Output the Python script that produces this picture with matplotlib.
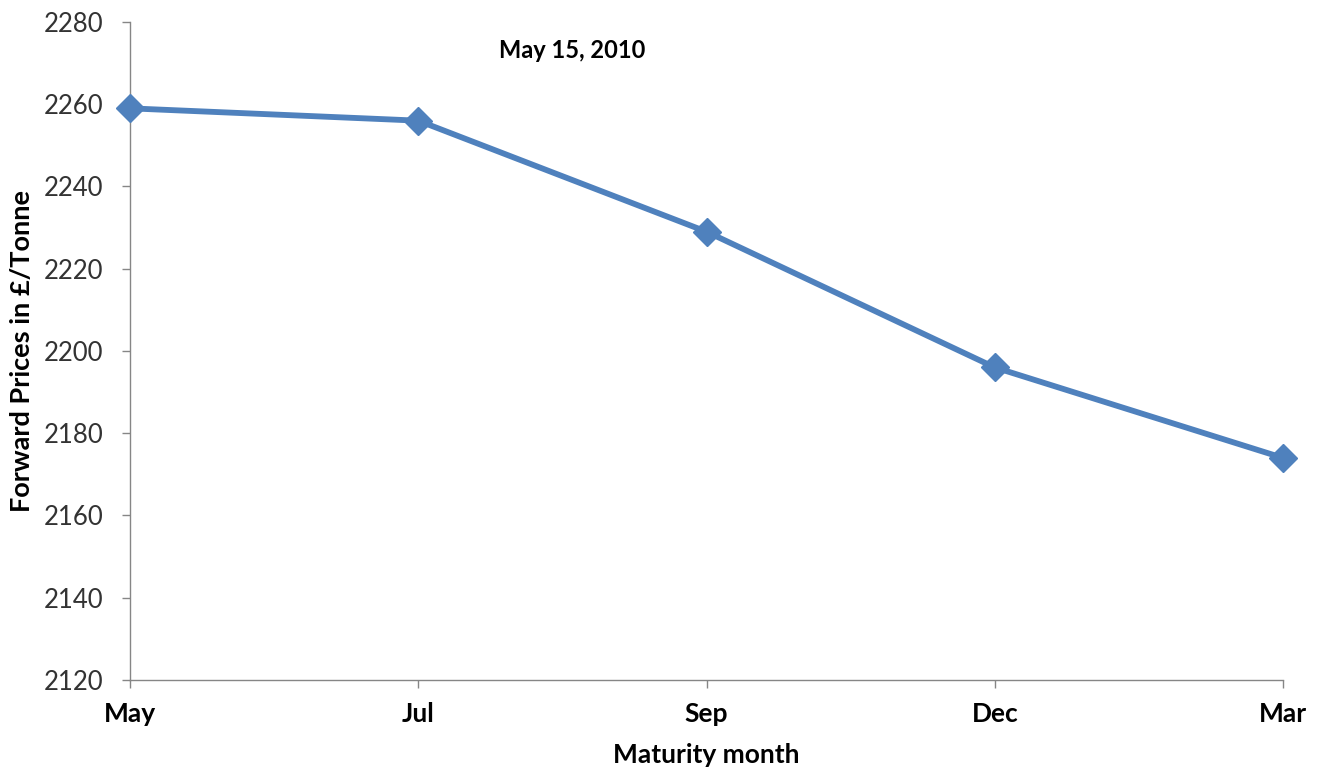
import matplotlib
matplotlib.use("Agg")
import matplotlib.pyplot as plt

# forward curve
months = ["May", "Jul", "Sep", "Dec", "Mar"]
prices = [2259, 2256, 2229, 2196, 2174]
yticks = [2120, 2140, 2160, 2180, 2200, 2220, 2240, 2260, 2280]

plt.rcParams['font.family'] = ['Lato', 'DejaVu Sans']

fig = plt.figure(figsize=(13.2, 7.76), dpi=100)
ax = fig.add_axes([0.0985, 0.1237, 0.8735, 0.848])

x = list(range(len(months)))
ax.plot(x, prices, color='#4F81BD', linewidth=4.2, marker='D', markersize=14,
        clip_on=False, zorder=3)

ax.set_xlim(0, len(months) - 1)
ax.set_ylim(2120, 2280)
ax.set_xticks(x)
ax.set_xticklabels(months, fontsize=19, fontweight='bold')
ax.set_yticks(yticks)
ax.set_yticklabels([str(v) for v in yticks], fontsize=18.5, color='#333333')

for side in ['top', 'right']:
    ax.spines[side].set_visible(False)
for side in ['left', 'bottom']:
    ax.spines[side].set_color('#868686')
    ax.spines[side].set_linewidth(1.0)
ax.tick_params(axis='both', direction='out', length=6, color='#868686', width=1.0)
ax.tick_params(axis='x', pad=10)
ax.tick_params(axis='y', pad=13)

ax.set_xlabel('Maturity month', fontsize=19, fontweight='bold', labelpad=12)
ax.set_ylabel('Forward Prices in £/Tonne', fontsize=19.5, fontweight='bold', labelpad=7)

ax.text(0.32, 0.957, 'May 15, 2010', transform=ax.transAxes, fontsize=17,
        fontweight='bold', ha='left', va='center')

fig.savefig('out.png', dpi=100)
